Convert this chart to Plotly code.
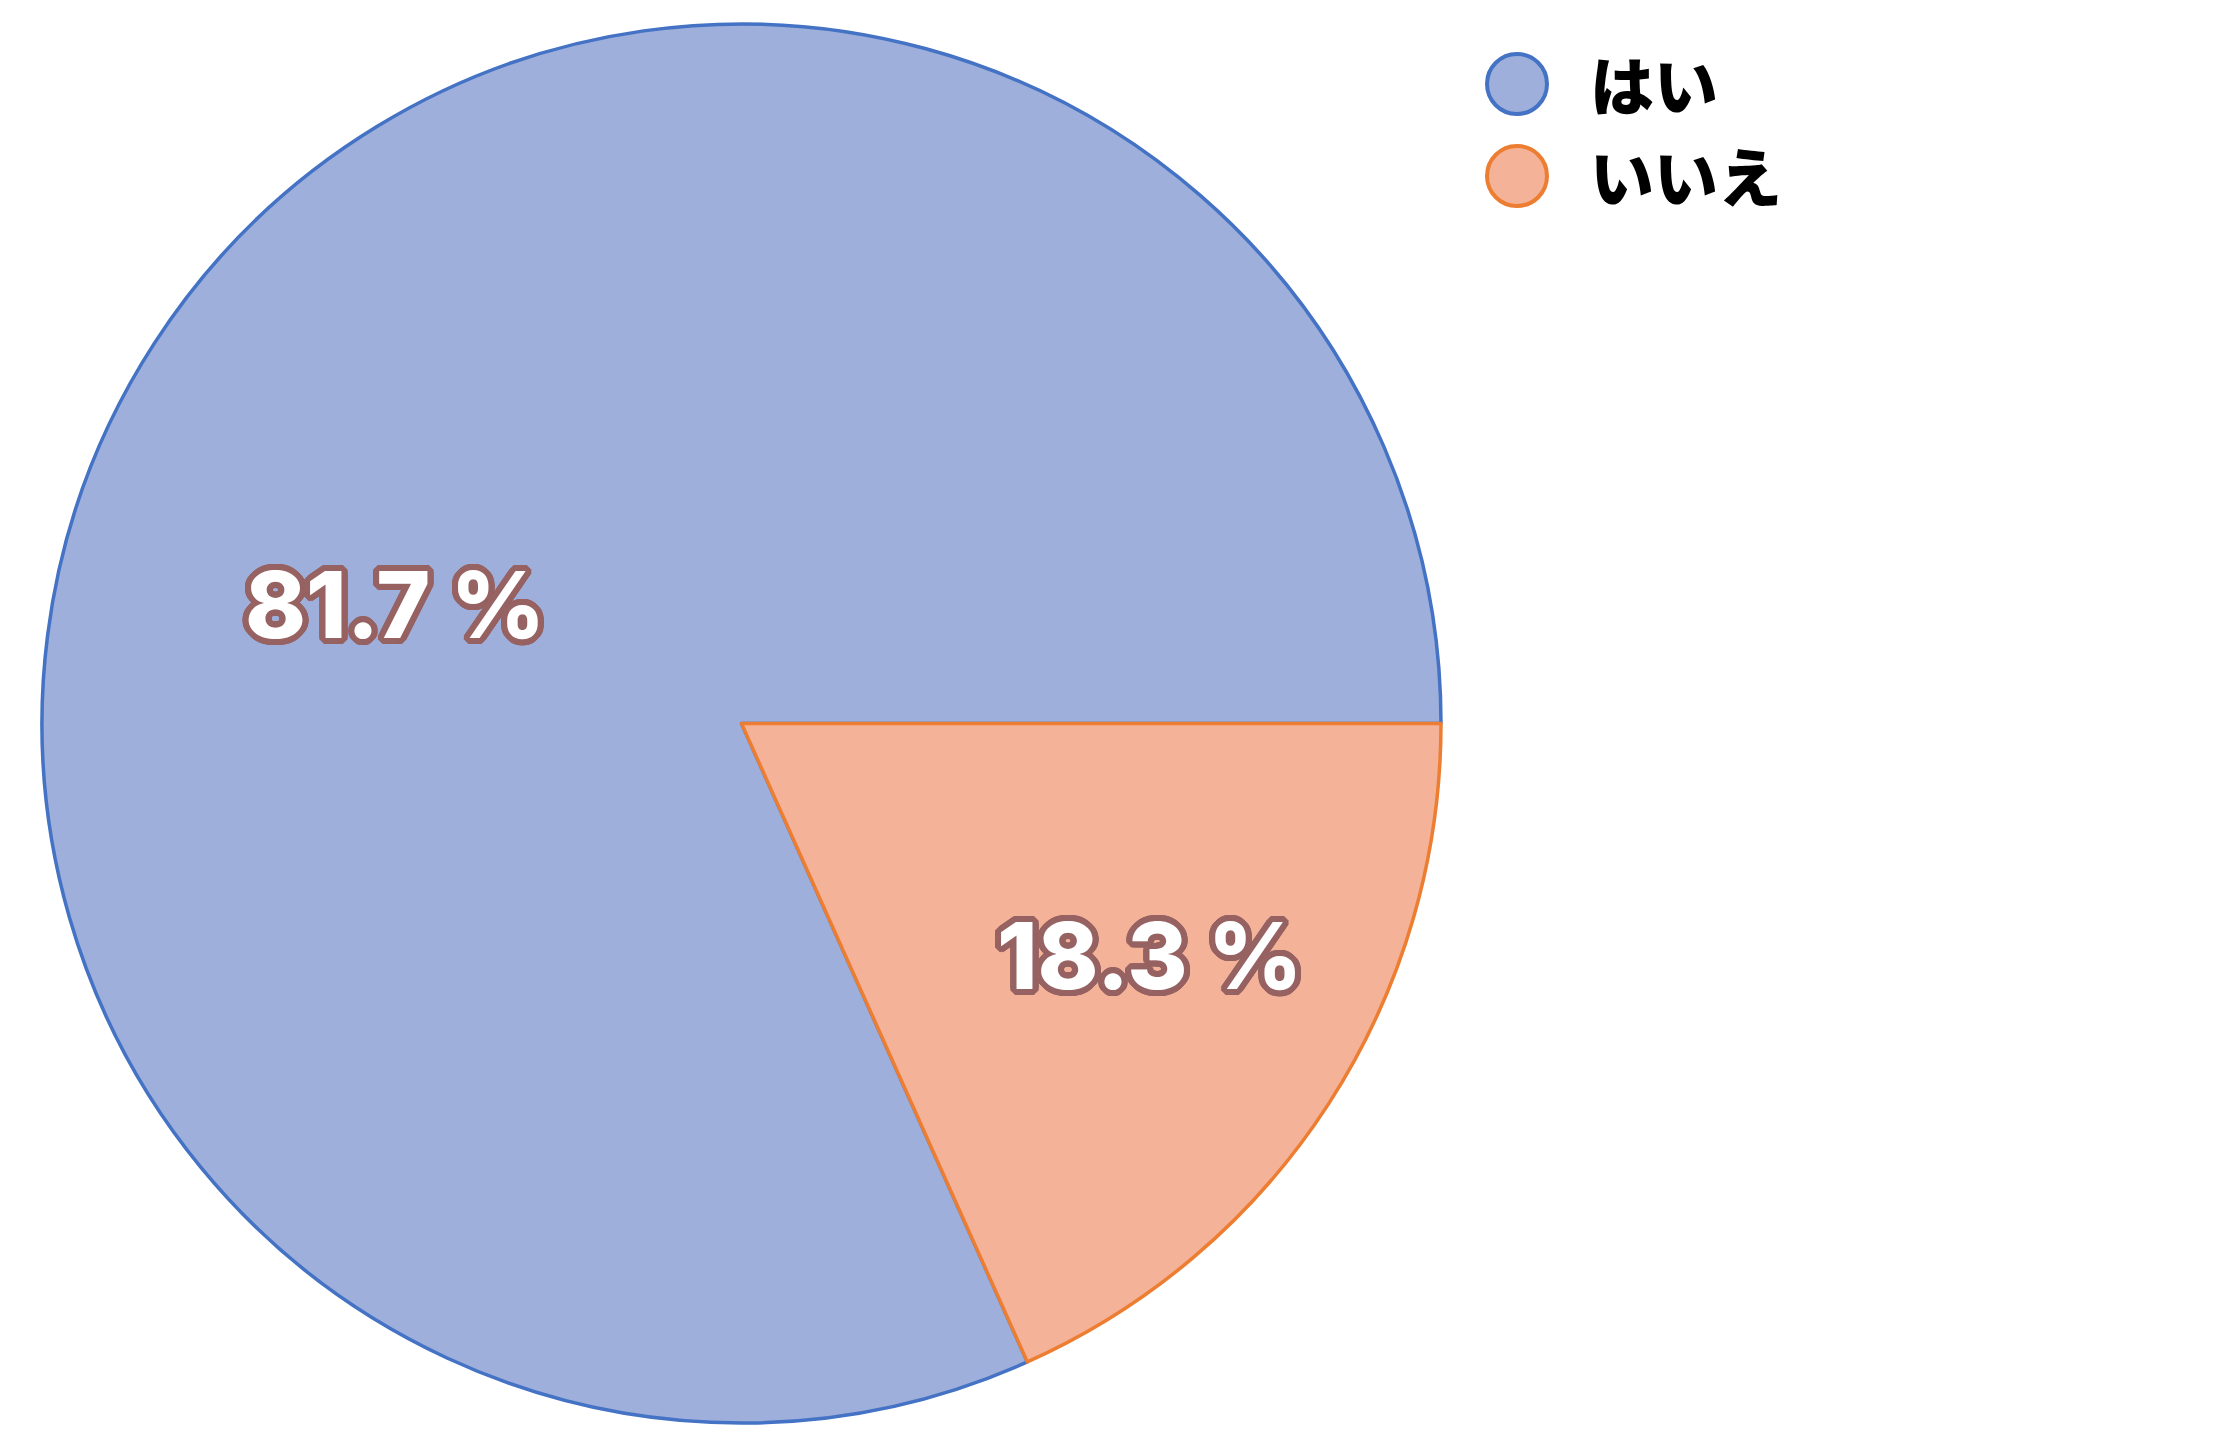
import plotly.graph_objects as go

categories = ["はい", "いいえ"]
values = [81.7, 18.3]
fill_colors = ["#9DAFDA", "#F4B298"]
line_colors = ["#4472C4", "#ED7D31"]

W, H = 2213, 1442
OFF = 8  # default body margin of the html page
FW, FH = W - 2 * OFF, H - 2 * OFF


def px(x):
    return (x - OFF) / FW


def py(y):
    return 1 - (y - OFF) / FH


total = sum(values)
labels_txt = [f"{v / total * 100:.1f} %" for v in values]
label_pos = [(395, 604), (1150, 955)]  # label centres on the page

oc = "#976262"
offs = []
for dx in range(-7, 8):
    for dy in range(-7, 8):
        if 25 <= dx * dx + dy * dy <= 40:
            offs.append((dx, dy))
shadow = ", ".join(f"{dx}px {dy}px 0px {oc}" for dx, dy in offs)

fig = go.Figure()
fig.add_trace(go.Pie(
    labels=categories,
    values=values,
    textinfo="none",
    sort=False,
    direction="clockwise",
    rotation=90 + 360 * values[1] / total,
    marker=dict(colors=fill_colors, line=dict(color=line_colors, width=3.5)),
    showlegend=False,
    hoverinfo="label+percent",
    domain=dict(x=[px(42), px(1441)], y=[py(1423), py(24)]),
))

shapes = []
annotations = []
for txt, (lx, ly) in zip(labels_txt, label_pos):
    annotations.append(dict(
        xref="paper", yref="paper", x=px(lx), y=py(ly),
        xanchor="center", yanchor="middle", showarrow=False, text=txt,
        font=dict(family="Inter", size=92, color="white", weight=800, shadow=shadow),
    ))

# custom legend with circle markers
leg_x, leg_y0, leg_dy, rad = 1517, 84, 92, 30
for i, (cat, fc, lc) in enumerate(zip(categories, fill_colors, line_colors)):
    cy = leg_y0 + i * leg_dy
    shapes.append(dict(
        type="circle", xref="paper", yref="paper",
        x0=px(leg_x - rad), x1=px(leg_x + rad),
        y0=py(cy + rad), y1=py(cy - rad),
        fillcolor=fc, line=dict(color=lc, width=4),
    ))
    annotations.append(dict(
        xref="paper", yref="paper", x=px(1588), y=py(cy - 2),
        xanchor="left", yanchor="middle", showarrow=False, text=cat,
        font=dict(family="Noto Sans CJK JP", size=64, color="black", weight=900),
    ))

fig.update_layout(
    width=FW, height=FH,
    margin=dict(l=0, r=0, t=0, b=0),
    paper_bgcolor="white", plot_bgcolor="white",
    shapes=shapes, annotations=annotations,
)

fig.write_html("out.html")
